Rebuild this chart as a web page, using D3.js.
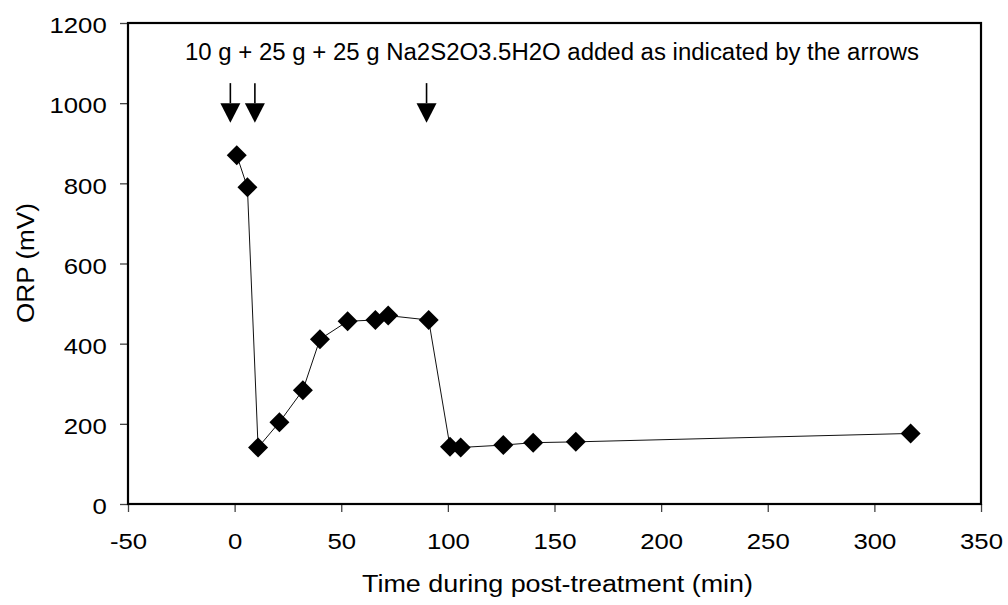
<!DOCTYPE html>
<html><head><meta charset="utf-8">
<script src="https://cdn.jsdelivr.net/npm/d3@7"></script>
<style>body{margin:0;background:#fff}svg{display:block}text{font-family:"Liberation Sans",Arial,sans-serif;fill:#000}</style>
</head><body>
<svg id="c" width="1008" height="605"></svg>
<script>
const timeMin = [1, 6, 11, 21, 32, 40, 53, 66, 72, 91, 101, 106, 126, 140, 160, 317];
const orpMV   = [870, 790, 141, 204, 284, 411, 456, 459, 470, 459, 143, 141, 147, 153, 155, 176];
const arrowTimes = [-2, 9.5, 90];
const xTicks = [-50, 0, 50, 100, 150, 200, 250, 300, 350];
const yTicks = [0, 200, 400, 600, 800, 1000, 1200];
const annotation = "10 g + 25 g + 25 g Na2S2O3.5H2O added as indicated by the arrows";
const xTitle = "Time during post-treatment (min)";
const yTitle = "ORP (mV)";

const svg = d3.select("#c");
const L = 128, R = 981, T = 23, B = 504;
const x = d3.scaleLinear().domain([-50, 350]).range([L, R]);
const y = d3.scaleLinear().domain([0, 1200]).range([B, T]);
const FS = "23px", SX = 1.12;

const xa = svg.append("g").attr("transform", `translate(0,${B})`)
  .call(d3.axisBottom(x).tickValues(xTicks).tickSize(8).tickPadding(0).tickFormat(d => String(d)));
const ya = svg.append("g").attr("transform", `translate(${L},0)`)
  .call(d3.axisLeft(y).tickValues(yTicks).tickSize(8).tickPadding(11).tickFormat(d => String(d)));
[xa, ya].forEach(g => {
  g.select(".domain").remove();
  g.selectAll(".tick line").attr("stroke", "#444").attr("stroke-width", 1.3);
  g.selectAll(".tick text").style("font-size", FS).attr("font-family", '"Liberation Sans",Arial,sans-serif');
});
xa.selectAll(".tick text").attr("y", 45).attr("dy", null).attr("transform", `scale(${SX},1)`);
ya.selectAll(".tick text").attr("dy", "0.42em").attr("transform", `scale(${SX},1)`);

svg.append("rect").attr("x", L).attr("y", T).attr("width", R - L).attr("height", B - T)
  .attr("fill", "none").attr("stroke", "#000").attr("stroke-width", 2.2);

const pts = timeMin.map((t, i) => [t, orpMV[i]]);
svg.append("path").datum(pts)
  .attr("d", d3.line().x(d => x(d[0])).y(d => y(d[1])))
  .attr("fill", "none").attr("stroke", "#111").attr("stroke-width", 1);

svg.selectAll(".m").data(pts).enter().append("path")
  .attr("transform", d => `translate(${x(d[0])},${y(d[1])})`)
  .attr("d", "M0,-10L10,0L0,10L-10,0Z").attr("fill", "#000");

// arrows
const ag = svg.selectAll(".ar").data(arrowTimes).enter().append("g");
ag.append("line").attr("x1", d => x(d)).attr("x2", d => x(d))
  .attr("y1", y(1050)).attr("y2", y(1000)).attr("stroke", "#000").attr("stroke-width", 1.6);
ag.append("path").attr("d", d => `M${x(d)-10},${y(1000)}L${x(d)+10},${y(1000)}L${x(d)},${y(951)}Z`).attr("fill", "#000");

svg.append("text").attr("x", 185).attr("y", 59.5).style("font-size", FS)
  .attr("textLength", 734).attr("lengthAdjust", "spacingAndGlyphs").text(annotation);
svg.append("text").attr("x", 362).attr("y", 591.5).style("font-size", FS)
  .attr("textLength", 391).attr("lengthAdjust", "spacingAndGlyphs").text(xTitle);
svg.append("text").attr("transform", `translate(33.5,323) rotate(-90)`).style("font-size", FS)
  .attr("textLength", 120).attr("lengthAdjust", "spacingAndGlyphs").text(yTitle);
</script>
</body></html>
